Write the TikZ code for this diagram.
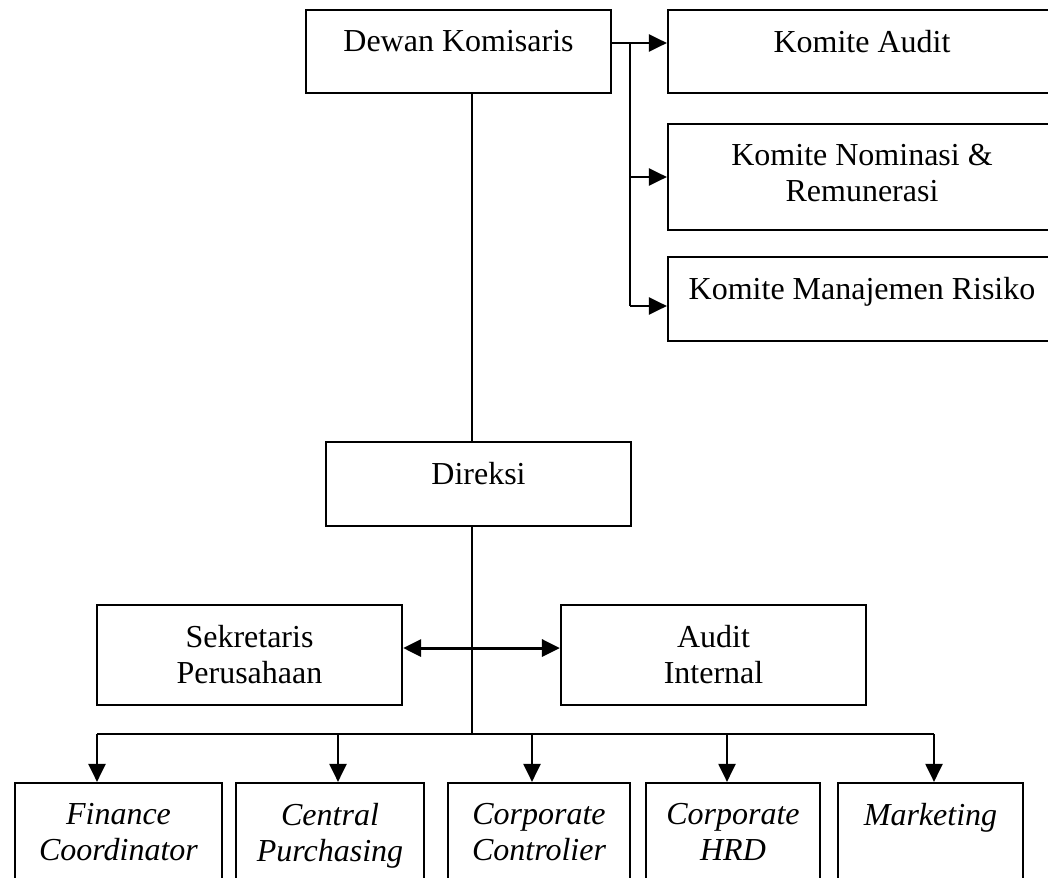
\documentclass[tikz,border=0pt]{standalone}
\usepackage{fontspec}
\setmainfont{Liberation Serif}
\usetikzlibrary{arrows.meta,positioning}

\begin{document}
\begin{tikzpicture}[x=0.5pt,y=-0.5pt,
    orgbox/.style={rectangle,draw,line width=1.1pt,inner sep=0pt},
    lbl/.style={anchor=north,inner sep=0pt,align=center,font=\fontsize{16}{18}\selectfont,yshift=-10.5pt},
    ilbl/.style={lbl,font=\fontsize{16}{18}\selectfont\itshape},
    link/.style={line width=1.1pt},
    arr/.style={line width=1.1pt,-{Triangle[length=9pt,width=8.5pt]}},
    darr/.style={line width=1.5pt,{Triangle[length=9pt,width=8.5pt]}-{Triangle[length=9pt,width=8.5pt]}}]
    \useasboundingbox (0,0) rectangle (1048,877);
    \clip (0,0) rectangle (1048,877);

    % Nodes
    \node[orgbox,minimum width=152.5pt,minimum height=41.5pt,label={[lbl]north:Dewan Komisaris}] (dewan) at (458.5,51.5) {};
    \node[orgbox,minimum width=194pt,minimum height=41.5pt,label={[lbl]north:Komite Audit}] (kaudit) at (862,51.5) {};
    \node[orgbox,minimum width=194pt,minimum height=53pt,label={[lbl]north:Komite Nominasi \&\\Remunerasi}] (knominasi) at (862,177) {};
    \node[orgbox,minimum width=194pt,minimum height=42pt,label={[lbl]north:Komite Manajemen Risiko}] (krisiko) at (862,299) {};
    \node[orgbox,minimum width=152.5pt,minimum height=42pt,label={[lbl]north:Direksi}] (direksi) at (478.5,484) {};
    \node[orgbox,minimum width=152.5pt,minimum height=50pt,label={[lbl]north:Sekretaris\\Perusahaan}] (sekretaris) at (249.5,655) {};
    \node[orgbox,minimum width=152.5pt,minimum height=50pt,label={[lbl]north:Audit\\Internal}] (audit) at (713.5,655) {};

    % Units
    \node[orgbox,minimum width=103.5pt,minimum height=73.5pt,label={[ilbl]north:Finance\\Coordinator}] (finance) at (118.5,856.5) {};
    \node[orgbox,minimum width=94pt,minimum height=73.5pt,label={[ilbl]north:Central\\Purchasing}] (central) at (330,856.5) {};
    \node[orgbox,minimum width=91pt,minimum height=73.5pt,label={[ilbl]north:Corporate\\Controlier}] (controlier) at (539,856.5) {};
    \node[orgbox,minimum width=87pt,minimum height=73.5pt,label={[ilbl]north:Corporate\\HRD}] (hrd) at (733,856.5) {};
    \node[orgbox,minimum width=92.5pt,minimum height=73.5pt,label={[ilbl]north:Marketing}] (marketing) at (930.5,856.5) {};

    % Committees
    \coordinate (split) at (630,43);
    \coordinate (splitend) at (630,306);
    \draw[arr] (dewan.east |- split) -- (kaudit.west |- split);
    \draw[link] (split) -- (splitend);
    \draw[arr] (split |- knominasi.west) -- (knominasi.west);
    \draw[arr] (splitend) -- (krisiko.west |- splitend);

    % Trunk
    \coordinate (trunk) at (472,0);
    \coordinate (busL) at (97,734);
    \coordinate (busR) at (934,734);
    \draw[link] (dewan.south -| trunk) -- (direksi.north -| trunk);
    \draw[link] (direksi.south -| trunk) -- (trunk |- busL);
    \draw[darr] ([yshift=3.5pt]sekretaris.east) -- ([yshift=3.5pt]audit.west);

    % Bus
    \draw[link] (busL) -- (busR);
    \foreach \x/\n in {97/finance,338/central,532/controlier,727/hrd,934/marketing}{
        \coordinate (top\n) at (\x,734);
        \draw[arr] (top\n) -- (top\n |- \n.north);
    }
\end{tikzpicture}
\end{document}
